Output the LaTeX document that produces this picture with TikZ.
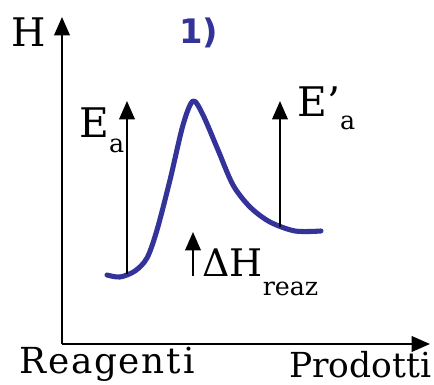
\documentclass[tikz,border=0pt]{standalone}
\usepackage{fontspec}
\setmainfont{DejaVu Serif}
\newfontfamily\numfont{DejaVu Sans}
\usetikzlibrary{arrows.meta}
\definecolor{curveblue}{RGB}{51,51,153}
\tikzset{
  ax/.style={-{Triangle[length=13pt,width=11pt]}, line width=1.5pt},
  ar/.style={-{Triangle[length=13pt,width=11pt]}, line width=1.4pt},
  lbl/.style={inner sep=0pt, anchor=base west},
  prof/.style={draw=curveblue, line width=3.6pt, line cap=round, line join=round},
}
\newcommand\sbs[2]{\raisebox{#1}{\fontsize{18}{20}\selectfont #2}}

\begin{document}
\begin{tikzpicture}[x=0.025cm, y=-0.025cm]
\useasboundingbox (0,0) rectangle (434,385);
% axes
\coordinate (O) at (62,344);
\coordinate (ytop) at (62,17);
\coordinate (xend) at (430,344);
\draw[ax] (O) -- (ytop);
\draw[ax] (O) -- (xend);
% profile
\draw[prof] plot[smooth, tension=0.5] coordinates {(107,275) (120,277) (135,271) (147,258)
  (157,230) (170,180) (183,125) (193,101) (203,115) (218,150) (233,185) (250,207)
  (270,222) (295,231) (321,231)};
% arrows
\coordinate (ea0) at (127,274);
\coordinate (ea1) at (127,101);
\coordinate (eb0) at (280,227);
\coordinate (eb1) at (280,101);
\coordinate (dh0) at (193,276);
\coordinate (dh1) at (193,232);
\draw[ar] (ea0) -- (ea1);
\draw[ar] (eb0) -- (eb1);
\draw[ar] (dh0) -- (dh1);
% labels
\node[lbl, font=\fontsize{28}{32}\selectfont] (H) at (11,47) {H};
\node[lbl, font=\numfont\bfseries\fontsize{24}{28}\selectfont, text=curveblue] (num) at (179,44) {1)};
\node[lbl, font=\fontsize{29}{33}\selectfont] (Ea) at (79,138) {E\sbs{-10.5pt}{a}};
\node[lbl, font=\fontsize{29}{33}\selectfont] (Eb) at (297,117) {E’\sbs{-9pt}{a}};
\node[lbl, font=\fontsize{27}{31}\selectfont] (dH) at (202,277) {ΔH\sbs{-13.5pt}{reaz}};
\node[lbl, font=\fontsize{25.5}{29}\selectfont\addfontfeature{LetterSpace=5}] (reag) at (19,374) {Reagenti};
\node[lbl, font=\fontsize{24.5}{28}\selectfont] (prod) at (289,378) {Prodotti};
\end{tikzpicture}
\end{document}
